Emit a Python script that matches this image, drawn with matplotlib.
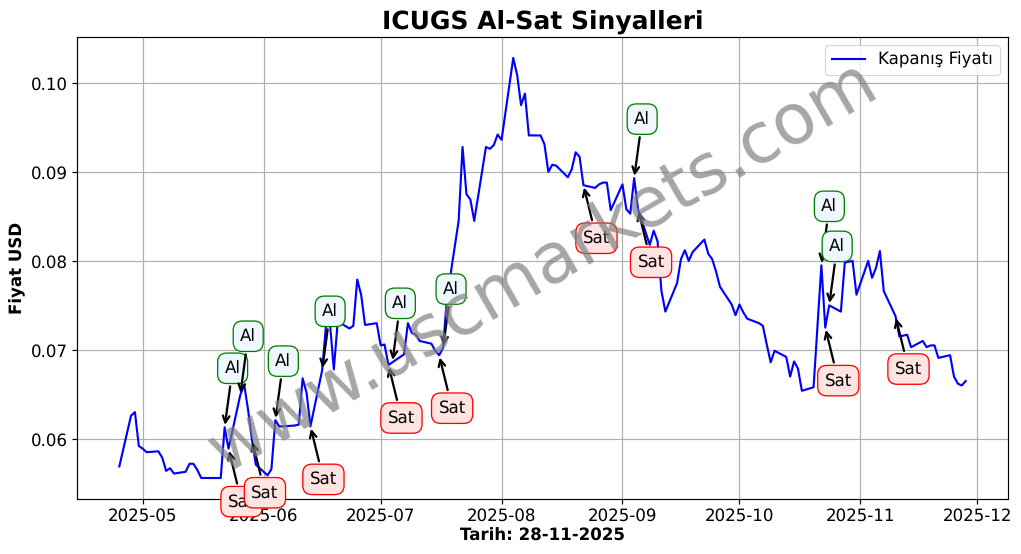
import matplotlib
matplotlib.use("Agg")
import matplotlib.pyplot as plt
import matplotlib.dates as mdates
import pandas as pd

plt.rcParams["text.hinting"] = "no_hinting"

start_date = "2025-04-25"
end_date = "2025-11-28"
close_values = [
    .0569,
    .0626, .0630, .0592, .0589, .0585,
    .0586, .0579, .0564, .0567, .0561,
    .0563, .0572, .0572, .0565, .0556,
    .0556, .0556, .0556, .0613, .0589,
    .0649, .0661, .0633, .0599, .0571,
    .0559, .0566, .0621, .0614, .0614,
    .0615, .0616, .0668, .0652, .0614,
    .0677, .0728, .0730, .0678, .0732,
    .0724, .0727, .0779, .0762, .0728,
    .0730, .0705, .0706, .0683, .0686,
    .0695, .0730, .0719, .0717, .0710,
    .0707, .0699, .0694, .0702, .0758,
    .0845, .0928, .0875, .0869, .0845,
    .0928, .0926, .0930, .0942, .0936,
    .1028, .1009, .0975, .0988, .0941,
    .0941, .0931, .0900, .0908, .0907,
    .0894, .0903, .0922, .0917, .0885,
    .0882, .0886, .0888, .0888, .0857,
    .0886, .0858, .0853, .0893, .0858,
    .0818, .0834, .0822, .0766, .0743,
    .0775, .0802, .0812, .0800, .0810,
    .0824, .0808, .0802, .0788, .0771,
    .0751, .0739, .0751, .0742, .0735,
    .0730, .0727, .0706, .0686, .0699,
    .0692, .0670, .0687, .0679, .0654,
    .0658, .0727, .0795, .0725, .0750,
    .0743, .0798, .0799, .0800, .0762,
    .0800, .0781, .0792, .0811, .0766,
    .0738, .0715, .0716, .0717, .0703,
    .0710, .0703, .0705, .0705, .0691,
    .0694, .0670, .0662, .0660, .0665,
]
buy_dates = ["2025-05-22", "2025-05-26", "2025-06-04", "2025-06-16", "2025-07-04",
             "2025-07-17", "2025-09-04", "2025-10-22", "2025-10-24"]
sell_dates = ["2025-05-23", "2025-05-29", "2025-06-13", "2025-07-03", "2025-07-16",
              "2025-08-22", "2025-09-05", "2025-10-23", "2025-11-10"]

dates = pd.bdate_range(start_date, end_date)
series = pd.Series(close_values, index=dates)

DPI = 85
FS = 14.1
fig = plt.figure(figsize=(1021 / DPI, 554 / DPI), dpi=DPI)
ax = fig.add_axes([77 / 1021, 1 - 499 / 554, (1008 - 77) / 1021, (499 - 37) / 554])
ax.plot(series.index, series.values, color="blue", lw=1.8, label="Kapanış Fiyatı")


def mark(when, label, offset, face, edge):
    ax.annotate(label, xy=(pd.Timestamp(when), series[when]), xytext=offset,
                textcoords="offset pixels", ha="center", va="center", fontsize=FS,
                bbox=dict(boxstyle="round,pad=0.42,rounding_size=0.55", fc=face, ec=edge, lw=1.1),
                arrowprops=dict(arrowstyle="->", color="black", lw=1.9, mutation_scale=14))


for d in buy_dates:
    mark(d, "Al", (8, 59), "aliceblue", "green")
for d in sell_dates:
    mark(d, "Sat", (13, -53), "mistyrose", "red")

ax.text(0.5, 0.5, "www.uscmarkets.com", transform=ax.transAxes, fontsize=59,
        color="gray", alpha=0.7, rotation=30, ha="center", va="center", zorder=10)

ax.xaxis.set_major_locator(mdates.MonthLocator())
ax.xaxis.set_major_formatter(mdates.DateFormatter("%Y-%m"))
ax.tick_params(labelsize=FS, width=1, length=4.2)
ax.grid(True, lw=1)
for s in ax.spines.values():
    s.set_linewidth(1)
ax.set_title("ICUGS Al-Sat Sinyalleri", fontsize=21.2, fontweight="bold", pad=7)
ax.set_xlabel("Tarih: 28-11-2025", fontsize=FS, fontweight="bold", labelpad=3)
ax.set_ylabel("Fiyat USD", fontsize=FS, fontweight="bold")
ax.legend(loc="upper right", fontsize=FS)
fig.savefig("out.png", dpi=DPI)
